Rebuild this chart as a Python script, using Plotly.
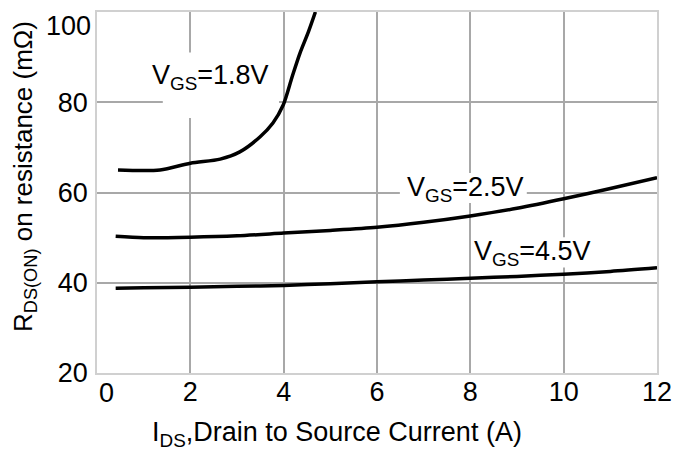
import plotly.graph_objects as go

# Data
vgs18_x = [0.45, 1.35, 2.0, 2.64, 3.06, 3.49, 3.77, 3.99, 4.18, 4.35, 4.53, 4.68]
vgs18_y = [65.0, 65.0, 66.5, 67.4, 69.0, 72.3, 75.4, 79.4, 85.6, 90.9, 95.6, 100.0]

vgs25_x = [0.4, 1, 2, 3, 4, 5, 6, 7, 8, 9, 10, 11, 12]
vgs25_y = [50.3, 50.0, 50.1, 50.4, 51.0, 51.6, 52.3, 53.4, 54.8, 56.5, 58.6, 60.9, 63.3]

vgs45_x = [0.4, 1, 2, 3, 4, 5, 6, 7, 8, 9, 10, 11, 12]
vgs45_y = [38.8, 38.9, 39.0, 39.2, 39.4, 39.8, 40.2, 40.6, 41.0, 41.4, 41.9, 42.5, 43.3]

x_ticks = [0, 2, 4, 6, 8, 10, 12]
x_tick_labels = ["0", "2", "4", "6", "8", "10", "12"]
y_ticks = [20, 40, 60, 80, 100]
y_tick_labels = ["20", "40", "60", "80", "100"]

labels = ["V<sub>GS</sub>=1.8V", "V<sub>GS</sub>=2.5V", "V<sub>GS</sub>=4.5V"]
label_x = [2.44, 7.89, 9.34]
label_y = [85.6, 60.8, 46.7]

x_title = "I<sub>DS</sub>,Drain to Source Current (A)"
y_title = "R<sub>DS(ON)</sub> on resistance (mΩ)"

FONT = "Liberation Sans, Arial, sans-serif"
W, H = 675, 450
L, R, T, B = 97, 18, 12, 77
PW, PH = W - L - R, H - T - B

fig = go.Figure()
for xs, ys in [(vgs18_x, vgs18_y), (vgs25_x, vgs25_y), (vgs45_x, vgs45_y)]:
    fig.add_trace(go.Scatter(x=xs, y=ys, mode="lines",
                             line=dict(color="black", width=3.5, shape="spline", smoothing=0.8),
                             showlegend=False, hoverinfo="skip"))

# white label backgrounds (between gridlines and curves)
label_boxes = [(1.41, 3.9, 76.5, 91.0), (6.49, 9.21, 57.7, 64.3), (8.04, 10.7, 43.4, 50.1)]
for x0, x1, y0, y1 in label_boxes:
    fig.add_shape(type="rect", xref="x", yref="y", x0=x0, x1=x1, y0=y0, y1=y1,
                  fillcolor="white", line=dict(width=0), layer="between")

for t, lx, ly in zip(labels, label_x, label_y):
    fig.add_annotation(x=lx, y=ly, xref="x", yref="y", text=t, showarrow=False,
                       font=dict(family=FONT, size=27, color="black"),
                       xanchor="center", yanchor="middle")

fig.add_annotation(x=(337 - L) / PW, y=(H - B - 434) / PH, xref="paper", yref="paper",
                   text=x_title, showarrow=False, xanchor="center", yanchor="middle",
                   font=dict(family=FONT, size=27, color="black"))
fig.add_annotation(x=(24 - L) / PW, y=(H - B - 177) / PH, xref="paper", yref="paper",
                   text=y_title, showarrow=False, textangle=-90,
                   xanchor="center", yanchor="middle",
                   font=dict(family=FONT, size=26, color="black"))

# edge tick labels that the reference nudges inward (top y label, first x label)
fig.add_annotation(x=0, y=y_ticks[-1], xref="paper", yref="y", text=y_tick_labels[-1],
                   showarrow=False, xanchor="right", yanchor="middle", xshift=-4, yshift=-14,
                   font=dict(family=FONT, size=27, color="black"))
fig.add_annotation(x=x_ticks[0], y=0, xref="x", yref="paper", text=x_tick_labels[0],
                   showarrow=False, xanchor="center", yanchor="top", xshift=9, yshift=-3,
                   font=dict(family=FONT, size=27, color="black"))

fig.update_layout(
    width=W, height=H,
    margin=dict(l=L, r=R, t=T, b=B),
    paper_bgcolor="white", plot_bgcolor="white",
    font=dict(family=FONT, size=27, color="black"),
)
fig.update_xaxes(range=[0, 12.0001], tickvals=x_ticks,
                 ticktext=[""] + x_tick_labels[1:],
                 showgrid=True, gridcolor="#a8a8a8", gridwidth=1.5,
                 showline=True, linecolor="#d0d0d0", linewidth=1.5, mirror=True,
                 ticks="", zeroline=False, tickfont=dict(size=27), ticklabelstandoff=-6,
                 ticklabeloverflow="allow", automargin=False)
fig.update_yaxes(range=[20, 100.001], tickvals=y_ticks,
                 ticktext=y_tick_labels[:-1] + [""],
                 showgrid=True, gridcolor="#a8a8a8", gridwidth=1.5,
                 showline=True, linecolor="#d0d0d0", linewidth=1.5, mirror=True,
                 ticks="", zeroline=False, tickfont=dict(size=27), ticklabelstandoff=2,
                 ticklabeloverflow="allow", automargin=False)

fig.write_html("out.html", config={"displayModeBar": False},
               post_script="document.body.style.margin='0';document.body.style.overflow='hidden';")
